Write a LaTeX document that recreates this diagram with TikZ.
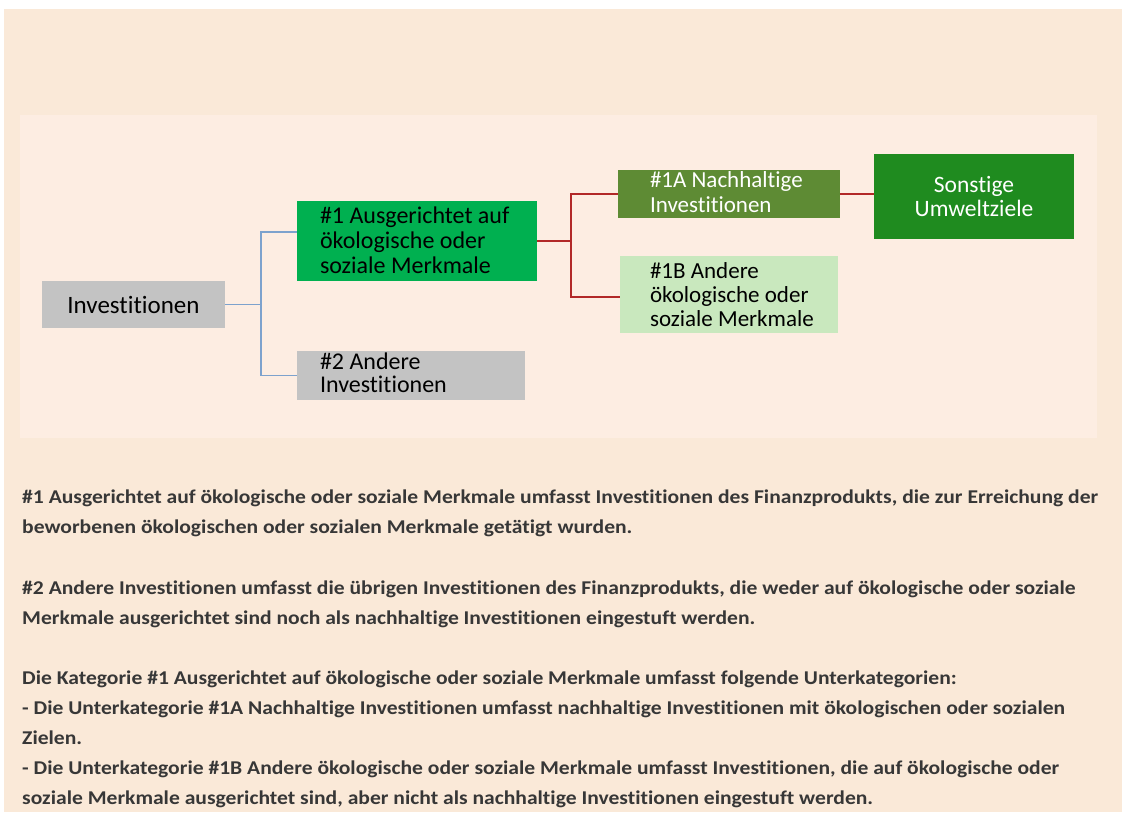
\documentclass[tikz,border=0pt]{standalone}
\usepackage{fontspec}
\setmainfont{Carlito}[Ligatures=NoCommon]
\usepackage{graphicx}
\definecolor{outerbg}{RGB}{250,233,216}
\definecolor{innerbg}{RGB}{253,237,226}
\definecolor{boxgray}{RGB}{195,195,195}
\definecolor{gmain}{RGB}{0,176,80}
\definecolor{golive}{RGB}{94,139,52}
\definecolor{gdark}{RGB}{31,139,31}
\definecolor{glight}{RGB}{201,232,190}
\definecolor{lblue}{RGB}{125,162,205}
\definecolor{lred}{RGB}{178,40,40}
\definecolor{txtgray}{RGB}{55,55,55}
\newlength\lineonelen
\newcommand\bodyfnt{\fontsize{19.5}{30}\selectfont\bfseries}
\tikzset{
  boxnode/.style={rectangle, inner sep=0pt, draw=none},
  boxtext/.style={inner sep=0pt, align=left},
  blueline/.style={draw=lblue, line width=1.2pt},
  redline/.style={draw=lred, line width=1.2pt},
  bodyline/.style={inner sep=0pt, anchor=base west, text=txtgray, font=\bodyfnt}
}
\begin{document}
\settowidth\lineonelen{\bodyfnt \#1 Ausgerichtet auf ökologische oder soziale Merkmale umfasst Investitionen des Finanzprodukts, die zur Erreichung der}
\pgfmathsetmacro\txtratio{1076/\lineonelen}
\newcommand\bl[1]{\scalebox{\txtratio}[1]{#1}}
\begin{tikzpicture}[x=1pt,y=-1pt]
\useasboundingbox (0,0) rectangle (1124,812);
\fill[white] (0,0) rectangle (1124,812);
\fill[outerbg] (4,9) rectangle (1122,812);
\fill[innerbg] (20,115) rectangle (1097,438);

% boxes
\node[boxnode, fill=boxgray, minimum width=183pt, minimum height=47pt, font=\fontsize{25}{25}\selectfont] (inv) at (133.5,304.5) {Investitionen};
\node[boxnode, fill=gmain, minimum width=240pt, minimum height=80pt] (b1) at (417,241) {};
\node[boxnode, fill=boxgray, minimum width=228pt, minimum height=49pt] (b2) at (411,375.5) {};
\node[boxnode, fill=golive, minimum width=222pt, minimum height=48pt] (b1a) at (729,194) {};
\node[boxnode, fill=glight, minimum width=218pt, minimum height=77pt] (b1b) at (729,294.5) {};
\node[boxnode, fill=gdark, minimum width=200pt, minimum height=85pt, text=white, align=center, font=\fontsize{23.5}{24}\selectfont] (bs) at (974,196.5) {Sonstige\\Umweltziele};

% box texts
\node[boxtext, anchor=west, font=\fontsize{24}{25}\selectfont] (t1) at ([xshift=23pt,yshift=1pt]b1.west) {\#1 Ausgerichtet auf\\ökologische oder\\soziale Merkmale};
\node[boxtext, anchor=west, font=\fontsize{24}{23}\selectfont] (t2) at ([xshift=23pt,yshift=3pt]b2.west) {\#2 Andere\\Investitionen};
\node[boxtext, anchor=west, text=white, font=\fontsize{23}{25}\selectfont] (t1a) at ([xshift=32pt,yshift=2pt]b1a.west) {\#1A Nachhaltige\\Investitionen};
\node[boxtext, anchor=west, font=\fontsize{23}{24}\selectfont] (t1b) at ([xshift=30pt]b1b.west) {\#1B Andere\\ökologische oder\\soziale Merkmale};

% connectors
\coordinate (bj) at (261,0);
\coordinate (rj) at (571,0);
\draw[blueline] (inv.east) -- (inv.east -| bj);
\draw[blueline] ([yshift=9pt]b1.west) -| (bj |- b2.west) -- (b2.west);
\draw[redline] (b1.east) -- (b1.east -| rj);
\draw[redline] (b1a.west) -| ([yshift=-2.5pt]rj |- b1b.west) -- ([yshift=-2.5pt]b1b.west);
\draw[redline] (b1a.east) -- (b1a.east -| bs.west);

% body text
\node[bodyline] (l1) at (22,503) {\bl{\#1 Ausgerichtet auf ökologische oder soziale Merkmale umfasst Investitionen des Finanzprodukts, die zur Erreichung der}};
\node[bodyline] (l2) at (22,533) {\bl{beworbenen ökologischen oder sozialen Merkmale getätigt wurden.}};
\node[bodyline] (l3) at (22,594) {\bl{\#2 Andere Investitionen umfasst die übrigen Investitionen des Finanzprodukts, die weder auf ökologische oder soziale}};
\node[bodyline] (l4) at (22,624) {\bl{Merkmale ausgerichtet sind noch als nachhaltige Investitionen eingestuft werden.}};
\node[bodyline] (l5) at (22,684) {\bl{Die Kategorie \#1 Ausgerichtet auf ökologische oder soziale Merkmale umfasst folgende Unterkategorien:}};
\node[bodyline] (l6) at (22,714) {\bl{- Die Unterkategorie \#1A Nachhaltige Investitionen umfasst nachhaltige Investitionen mit ökologischen oder sozialen}};
\node[bodyline] (l7) at (22,744) {\bl{Zielen.}};
\node[bodyline] (l8) at (22,774) {\bl{- Die Unterkategorie \#1B Andere ökologische oder soziale Merkmale umfasst Investitionen, die auf ökologische oder}};
\node[bodyline] (l9) at (22,804) {\bl{soziale Merkmale ausgerichtet sind, aber nicht als nachhaltige Investitionen eingestuft werden.}};
\end{tikzpicture}
\end{document}
